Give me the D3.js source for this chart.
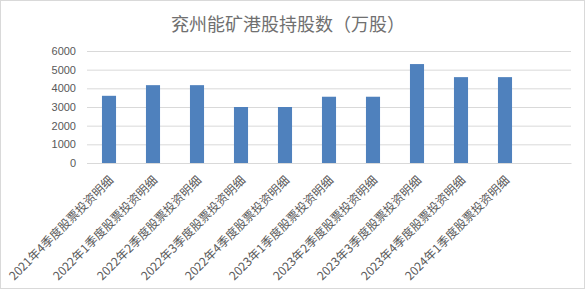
<!DOCTYPE html>
<html><head><meta charset="utf-8">
<script src="https://cdn.jsdelivr.net/npm/d3@7"></script>
<style>body{margin:0;background:#fff}svg{display:block}</style>
</head><body><svg id="c" width="585" height="289"></svg>
<script>
const categories = ["2021年4季度股票投资明细","2022年1季度股票投资明细","2022年2季度股票投资明细","2022年3季度股票投资明细","2022年4季度股票投资明细","2023年1季度股票投资明细","2023年2季度股票投资明细","2023年3季度股票投资明细","2023年4季度股票投资明细","2024年1季度股票投资明细",""];
const values = [3600,4170,4170,3000,3000,3550,3550,5300,4600,4600,null];
const yTicks = [0,1000,2000,3000,4000,5000,6000];
const title = "兖州能矿港股持股数（万股）";

const svg = d3.select("#c");
svg.append("rect").attr("x",0.5).attr("y",0.5).attr("width",584).attr("height",288)
  .attr("fill","#fff").attr("stroke","#d9d9d9");
const m = {l:87, r:571, t:51, b:163};
const x = d3.scaleBand().domain(categories.map((d,i)=>i)).range([m.l,m.r]).paddingInner(0.68).paddingOuter(0.34);
const y = d3.scaleLinear().domain([0,6000]).range([m.b,m.t]);

svg.append("text").attr("x",288).attr("y",31).attr("text-anchor","middle")
  .attr("font-family","'Noto Sans CJK SC',sans-serif").attr("font-size",18).attr("fill","#707070").text(title);

const ya = svg.append("g").attr("transform",`translate(${m.l},0)`)
  .call(d3.axisLeft(y).tickValues(yTicks).tickFormat(d3.format("d")).tickSize(-(m.r-m.l)).tickPadding(11));
ya.select(".domain").remove();
ya.selectAll(".tick line").attr("stroke","#d9d9d9");
ya.selectAll(".tick text").attr("font-family","'Liberation Sans',Arial,sans-serif").attr("font-size",11).attr("fill","#595959");

svg.append("g").selectAll("rect").data(values.map((v,i)=>({v,i})).filter(d=>d.v!=null)).join("rect")
  .attr("x",d=>x(d.i)).attr("width",x.bandwidth()).attr("y",d=>y(d.v)).attr("height",d=>y(0)-y(d.v)).attr("fill","#4f81bd");

const xa = svg.append("g").attr("transform",`translate(0,${m.b})`)
  .call(d3.axisBottom(x).tickFormat(i=>categories[i]).tickSize(0));
xa.select(".domain").attr("stroke","#d9d9d9");
xa.selectAll(".tick text").attr("font-family","'Noto Sans CJK SC',sans-serif").attr("font-size",12).attr("fill","#595959")
  .attr("text-anchor","end").attr("dy",0).attr("transform","translate(3,16) rotate(-45)");
</script></body></html>
